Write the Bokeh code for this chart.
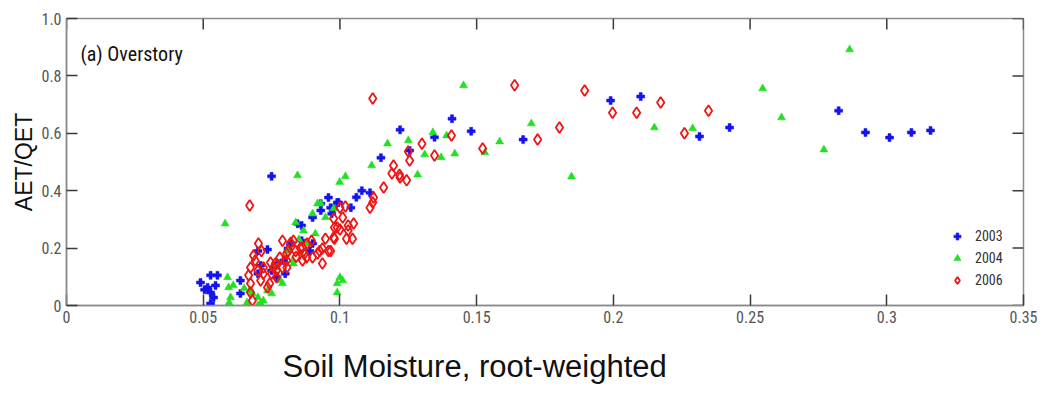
import numpy as np
from bokeh.plotting import figure
from bokeh.models import FixedTicker, Label, Legend, LegendItem, Range1d, Title
from bokeh.embed import file_html
from bokeh.resources import INLINE

# Root-weighted soil moisture (x) and AET/QET ratio (y) for each year
moist_2003 = [0.199, 0.210, 0.2315, 0.2425, 0.2824, 0.2922, 0.301, 0.309, 0.316, 0.167,
              0.141, 0.148, 0.1346, 0.122, 0.115, 0.1255, 0.108, 0.111, 0.106, 0.104,
              0.099, 0.097, 0.075, 0.0735, 0.049, 0.0527, 0.0552, 0.0516, 0.0527, 0.0538,
              0.0527, 0.0636, 0.0636, 0.070, 0.0845, 0.090, 0.0958, 0.0995, 0.0977, 0.082,
              0.081, 0.077, 0.080, 0.086, 0.090, 0.070, 0.071, 0.093, 0.0966, 0.093,
              0.086, 0.089, 0.0794, 0.075, 0.077, 0.0505, 0.0545]
ratio_2003 = [0.714, 0.728, 0.589, 0.620, 0.679, 0.603, 0.585, 0.603, 0.610, 0.578,
              0.651, 0.607, 0.586, 0.612, 0.515, 0.540, 0.400, 0.393, 0.377, 0.341,
              0.359, 0.320, 0.450, 0.195, 0.080, 0.105, 0.105, 0.063, 0.045, 0.028,
              0.007, 0.087, 0.042, 0.190, 0.285, 0.307, 0.376, 0.359, 0.338, 0.216,
              0.199, 0.146, 0.111, 0.226, 0.216, 0.111, 0.139, 0.355, 0.341, 0.331,
              0.279, 0.190, 0.157, 0.122, 0.098, 0.055, 0.070]

moist_2004 = [0.2864, 0.2546, 0.2615, 0.277, 0.229, 0.170, 0.1584, 0.153, 0.1847, 0.215,
              0.1452, 0.134, 0.139, 0.142, 0.137, 0.131, 0.125, 0.1284, 0.1174, 0.1116,
              0.102, 0.0999, 0.0977, 0.101, 0.099, 0.099, 0.0845, 0.093, 0.090, 0.0947,
              0.0838, 0.0867, 0.081, 0.0827, 0.077, 0.079, 0.075, 0.100, 0.058, 0.0589,
              0.0593, 0.060, 0.061, 0.071, 0.068, 0.072, 0.0735, 0.066, 0.070, 0.078,
              0.083, 0.0856, 0.088, 0.091, 0.0918, 0.067, 0.070, 0.0595, 0.085, 0.065]
ratio_2004 = [0.892, 0.756, 0.655, 0.543, 0.617, 0.634, 0.571, 0.533, 0.449, 0.620,
              0.767, 0.603, 0.592, 0.529, 0.516, 0.526, 0.575, 0.456, 0.564, 0.488,
              0.450, 0.430, 0.338, 0.087, 0.077, 0.045, 0.453, 0.355, 0.320, 0.307,
              0.289, 0.261, 0.190, 0.157, 0.132, 0.077, 0.042, 0.098, 0.285, 0.098,
              0.063, 0.028, 0.070, 0.007, 0.042, 0.017, 0.052, 0.010, 0.028, 0.087,
              0.146, 0.181, 0.216, 0.250, 0.355, 0.052, 0.000, 0.010, 0.230, 0.060]

moist_2006 = [0.2348, 0.226, 0.1639, 0.1895, 0.2173, 0.1997, 0.2085, 0.1803, 0.1723, 0.1522,
              0.112, 0.1408, 0.130, 0.1346, 0.1255, 0.125, 0.1196, 0.119, 0.1218, 0.122,
              0.1244, 0.116, 0.1123, 0.112, 0.111, 0.102, 0.101, 0.105, 0.098, 0.100,
              0.103, 0.1024, 0.1046, 0.0977, 0.0966, 0.100, 0.0977, 0.099, 0.103, 0.098,
              0.0947, 0.0936, 0.0958, 0.090, 0.088, 0.079, 0.082, 0.081, 0.0863, 0.078,
              0.0764, 0.075, 0.079, 0.067, 0.0702, 0.0713, 0.0684, 0.069, 0.0673, 0.0666,
              0.0673, 0.0673, 0.068, 0.070, 0.071, 0.072, 0.0746, 0.0735, 0.0768, 0.0805,
              0.0805, 0.0838, 0.0878, 0.0918, 0.0936, 0.0896, 0.0863, 0.083, 0.0806, 0.0757,
              0.072, 0.0743, 0.0768, 0.0855, 0.0926, 0.0840, 0.0870]
ratio_2006 = [0.679, 0.600, 0.767, 0.749, 0.707, 0.672, 0.672, 0.620, 0.578, 0.547,
              0.721, 0.592, 0.564, 0.523, 0.505, 0.537, 0.488, 0.460, 0.456, 0.446,
              0.436, 0.411, 0.376, 0.359, 0.341, 0.345, 0.307, 0.286, 0.272, 0.265,
              0.261, 0.233, 0.233, 0.237, 0.190, 0.341, 0.303, 0.272, 0.279, 0.233,
              0.233, 0.199, 0.190, 0.167, 0.216, 0.226, 0.219, 0.190, 0.157, 0.167,
              0.146, 0.111, 0.132, 0.348, 0.216, 0.190, 0.174, 0.157, 0.132, 0.105,
              0.077, 0.045, 0.017, 0.122, 0.087, 0.132, 0.150, 0.063, 0.098, 0.181,
              0.157, 0.190, 0.167, 0.181, 0.146, 0.226, 0.202, 0.226, 0.132, 0.132,
              0.111, 0.077, 0.122, 0.200, 0.190, 0.170, 0.180]

year_labels = ["2003", "2004", "2006"]
x_ticks = [0, 0.05, 0.1, 0.15, 0.2, 0.25, 0.3, 0.35]
x_tick_labels = ["0", "0.05", "0.1", "0.15", "0.2", "0.25", "0.3", "0.35"]
y_ticks = [0, 0.2, 0.4, 0.6, 0.8, 1.0]
y_tick_labels = ["0", "0.2", "0.4", "0.6", "0.8", "1.0"]

NARROW = "'Liberation Sans Narrow', 'Roboto Condensed', 'Liberation Sans', sans-serif"
SANS = "'Liberation Sans', Arial, sans-serif"
TICK_LEN = 11
AXIS_GREY = "#8a8a8a"
TICK_COLOR = "#3a3a3a"

x_lo, x_hi = x_ticks[0], x_ticks[-1]
y_lo, y_hi = y_ticks[0], y_ticks[-1]

p = figure(width=1048, height=409,
           x_range=Range1d(x_lo, x_hi), y_range=Range1d(y_lo, y_hi),
           output_backend="svg", toolbar_location=None,
           min_border_left=66, min_border_right=25,
           min_border_top=18, min_border_bottom=104)
p.xgrid.visible = False
p.ygrid.visible = False
p.outline_line_color = AXIS_GREY
p.outline_line_width = 1.5
p.background_fill_color = "white"
p.border_fill_color = "white"


def style_axis(ax, ticks, labels):
    ax.ticker = FixedTicker(ticks=ticks)
    ax.major_label_overrides = {t: s for t, s in zip(ticks, labels)}
    ax.major_tick_in = TICK_LEN
    ax.major_tick_out = 0
    ax.minor_tick_line_color = None
    ax.axis_line_color = AXIS_GREY
    ax.axis_line_width = 1.5
    ax.major_tick_line_color = TICK_COLOR
    ax.major_tick_line_width = 1.5
    ax.major_label_text_font = NARROW
    ax.major_label_text_color = "#555555"
    ax.major_label_text_font_size = "16px"
    ax.major_label_standoff = 5
    ax.axis_label_text_font = SANS
    ax.axis_label_text_font_style = "normal"
    ax.axis_label_text_color = "#111111"


xax = p.below[0]
yax = p.left[0]
style_axis(xax, x_ticks, x_tick_labels)
style_axis(yax, y_ticks, y_tick_labels)

yax.axis_label = "AET/QET"
yax.axis_label_text_font_size = "23px"
yax.axis_label_standoff = 1

# x title under the tick labels, set a little left of the box centre
p.add_layout(Title(text="Soil Moisture, root-weighted", align="left", offset=216,
                   vertical_align="bottom", text_font=SANS, text_font_size="31px",
                   text_font_style="normal", text_color="#111111", standoff=42), "below")

# mirrored inward ticks on the top and right edges of the box
p.ray(x=x_ticks, y=[y_hi] * len(x_ticks), length=TICK_LEN, length_units="screen",
      angle=-np.pi / 2, line_color=TICK_COLOR, line_width=1.5)
p.ray(x=[x_hi] * len(y_ticks), y=y_ticks, length=TICK_LEN, length_units="screen",
      angle=np.pi, line_color=TICK_COLOR, line_width=1.5)

r03 = p.scatter(moist_2003, ratio_2003, marker="plus", size=8,
                fill_color="#1414f0", line_color="#1414f0", line_alpha=0.5)
r04 = p.scatter(moist_2004, ratio_2004, marker="triangle", size=8,
                fill_color="#22e022", line_color="#22e022", line_alpha=0.5)
r06 = p.scatter(moist_2006, ratio_2006, marker="diamond", size=11,
                fill_color=None, line_color="#f01414", line_width=1.8)

legend = Legend(items=[LegendItem(label=year_labels[0], renderers=[r03]),
                       LegendItem(label=year_labels[1], renderers=[r04]),
                       LegendItem(label=year_labels[2], renderers=[r06])],
                location=(881, 16))
legend.label_text_font = NARROW
legend.label_text_font_size = "14px"
legend.label_text_color = "#333333"
legend.border_line_color = None
legend.background_fill_alpha = 0
legend.padding = 4
legend.spacing = 4
legend.glyph_height = 18
legend.label_height = 18
legend.glyph_width = 20
legend.label_standoff = 8
p.add_layout(legend)

p.add_layout(Label(x=14, y=252, x_units="screen", y_units="screen",
                   text="(a) Overstory", text_font=NARROW, text_font_size="20px",
                   text_color="#111111", text_baseline="middle"))

open("out.html", "w").write(file_html(p, INLINE))
